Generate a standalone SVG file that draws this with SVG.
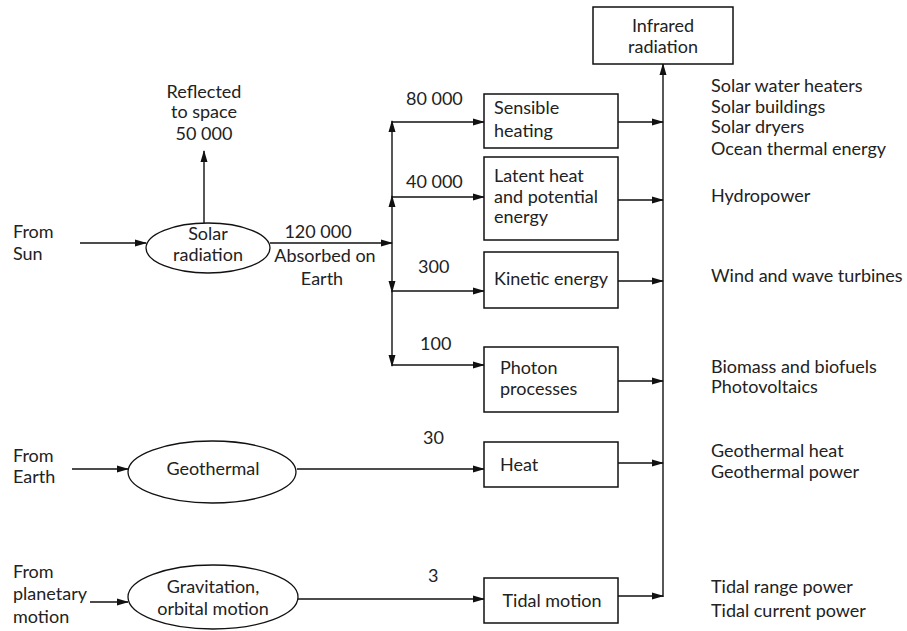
<svg xmlns="http://www.w3.org/2000/svg" width="907" height="631" viewBox="0 0 907 631">
<defs>
<marker id="ah" markerUnits="userSpaceOnUse" markerWidth="12" markerHeight="8" refX="11" refY="4" orient="auto">
<path d="M0,0.5 L12,4 L0,7.5 z" fill="#111"/>
</marker>
<style>
text{font-family:Lato,"Liberation Sans",sans-serif;font-size:18px;fill:#222}
.c{text-anchor:middle}
.box{fill:#fff;stroke:#111;stroke-width:1.5}
.ell{fill:#fff;stroke:#111;stroke-width:1.3}
.cn line,.cn path{stroke:#111;stroke-width:1.4;fill:none}
.ar{marker-end:url(#ah)}
</style>
</defs>
<rect width="907" height="631" fill="#fff"/>

<g class="cn" id="connectors">
<line class="ar" x1="80" y1="243" x2="146" y2="243"/>
<line class="ar" x1="204" y1="223" x2="204" y2="151"/>
<line class="ar" x1="270" y1="243" x2="392" y2="243"/>
<line class="ar" x1="392" y1="243" x2="392" y2="196"/>
<line class="ar" x1="392" y1="197" x2="392" y2="121"/>
<line class="ar" x1="392" y1="243" x2="392" y2="292"/>
<line class="ar" x1="392" y1="291" x2="392" y2="366"/>
<line class="ar" x1="392" y1="122" x2="484" y2="122"/>
<line class="ar" x1="392" y1="197" x2="484" y2="197"/>
<line class="ar" x1="392" y1="291" x2="484" y2="291"/>
<line class="ar" x1="392" y1="365" x2="484" y2="365"/>
<line class="ar" x1="618" y1="122" x2="663" y2="122"/>
<line class="ar" x1="618" y1="200" x2="663" y2="200"/>
<line class="ar" x1="618" y1="281" x2="663" y2="281"/>
<line class="ar" x1="618" y1="381" x2="663" y2="381"/>
<line class="ar" x1="618" y1="463" x2="663" y2="463"/>
<line class="ar" x1="618" y1="596" x2="663" y2="596"/>
<line class="ar" x1="663" y1="597" x2="663" y2="64"/>
<line class="ar" x1="72" y1="469" x2="128" y2="469"/>
<line class="ar" x1="297" y1="469" x2="484" y2="469"/>
<line class="ar" x1="90" y1="602" x2="128" y2="602"/>
<line class="ar" x1="298" y1="599" x2="484" y2="599"/>
</g>

<g id="from-sun">
<text x="13" y="238">From</text>
<text x="13" y="260">Sun</text>
</g>
<g id="solar-radiation">
<ellipse class="ell" cx="208" cy="248" rx="62" ry="25"/>
<text class="c" x="208" y="240">Solar</text>
<text class="c" x="208" y="261">radiation</text>
</g>
<g id="reflected">
<text class="c" x="204" y="98">Reflected</text>
<text class="c" x="204" y="118">to space</text>
<text class="c" x="204" y="140">50 000</text>
</g>
<g id="absorbed">
<text class="c" x="318" y="238">120 000</text>
<text class="c" x="325" y="262">Absorbed on</text>
<text class="c" x="322" y="285">Earth</text>
</g>
<g id="flow-labels">
<text x="406" y="105">80 000</text>
<text x="406" y="188">40 000</text>
<text x="418" y="273">300</text>
<text x="420" y="350">100</text>
<text x="423" y="444">30</text>
<text x="428" y="582">3</text>
</g>
<g id="infrared">
<rect class="box" x="593" y="7" width="140" height="57"/>
<text class="c" x="663" y="32">Infrared</text>
<text class="c" x="663" y="53">radiation</text>
</g>
<g id="sensible">
<rect class="box" x="484" y="94" width="134" height="54"/>
<text x="494" y="114">Sensible</text>
<text x="494" y="137">heating</text>
</g>
<g id="latent">
<rect class="box" x="484" y="157" width="134" height="83"/>
<text x="494" y="182">Latent heat</text>
<text x="494" y="203">and potential</text>
<text x="494" y="223">energy</text>
</g>
<g id="kinetic">
<rect class="box" x="484" y="252" width="134" height="56"/>
<text x="494" y="285">Kinetic energy</text>
</g>
<g id="photon">
<rect class="box" x="484" y="347" width="134" height="65"/>
<text x="500" y="374">Photon</text>
<text x="500" y="395">processes</text>
</g>
<g id="heat">
<rect class="box" x="484" y="442" width="134" height="45"/>
<text x="500" y="471">Heat</text>
</g>
<g id="tidal">
<rect class="box" x="484" y="578" width="134" height="45"/>
<text class="c" x="552" y="607">Tidal motion</text>
</g>
<g id="from-earth">
<text x="13" y="462">From</text>
<text x="13" y="483">Earth</text>
</g>
<g id="geothermal">
<ellipse class="ell" cx="212" cy="472" rx="84" ry="31"/>
<text class="c" x="213" y="475">Geothermal</text>
</g>
<g id="from-planetary">
<text x="13" y="578">From</text>
<text x="13" y="600">planetary</text>
<text x="13" y="623">motion</text>
</g>
<g id="gravitation">
<ellipse class="ell" cx="213" cy="597" rx="85" ry="32"/>
<text class="c" x="213" y="593">Gravitation,</text>
<text class="c" x="213" y="615">orbital motion</text>
</g>
<g id="applications">
<text x="711" y="92">Solar water heaters</text>
<text x="711" y="113">Solar buildings</text>
<text x="711" y="133">Solar dryers</text>
<text x="711" y="155">Ocean thermal energy</text>
<text x="711" y="202">Hydropower</text>
<text x="711" y="282">Wind and wave turbines</text>
<text x="711" y="373">Biomass and biofuels</text>
<text x="711" y="393">Photovoltaics</text>
<text x="711" y="457">Geothermal heat</text>
<text x="711" y="478">Geothermal power</text>
<text x="711" y="593">Tidal range power</text>
<text x="711" y="617">Tidal current power</text>
</g>
</svg>
